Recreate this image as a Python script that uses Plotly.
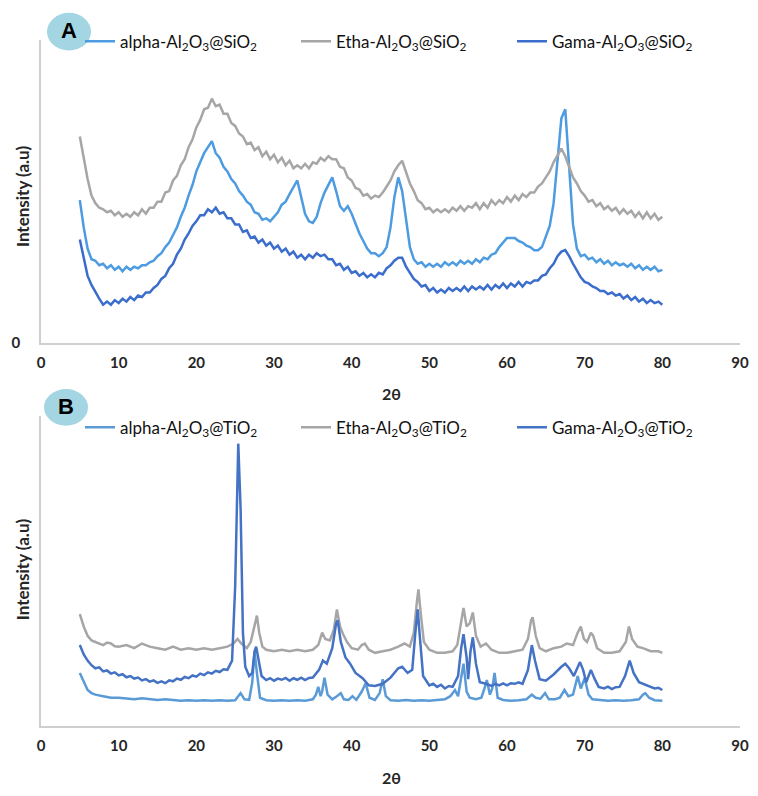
import plotly.graph_objects as go

# ---------------- Panel A data (2theta step 0.5 from 5 to 80) ----------------
xA = [5 + 0.5 * i for i in range(151)]

etha_sio2 = [68, 61, 54, 48.5, 46, 44.5, 44, 43, 43.5, 42,
             43, 41.5, 42.5, 41.5, 43, 42, 44, 42.5, 44.5, 44.5,
             46.5, 46.5, 49.5, 50, 53.5, 55, 58.5, 60.5, 64.5, 67,
             71, 73.5, 77, 77.5, 80.5, 78, 78.5, 75.5, 75.5, 72.5,
             71.5, 69, 68, 65.5, 66, 63.5, 64.5, 61.5, 63, 60.5,
             62, 59.5, 61, 58.5, 60, 57.5, 58.5, 57.5, 59, 57.5,
             59.5, 59, 61, 60, 61.5, 60.5, 60.5, 58, 57.5, 54.5,
             53.5, 51, 50.5, 48.5, 49, 47.5, 48.5, 48, 49.5, 51.5,
             53.5, 56.5, 58.5, 60, 56.5, 52.5, 50, 47, 46, 44,
             44.5, 43, 44, 43, 44, 43, 44.5, 43.5, 45, 43.5,
             45, 44.5, 46, 44, 46, 44.5, 47, 45.5, 47, 46,
             48, 46.5, 48.5, 47, 49, 48, 49.5, 49.5, 51.5, 52.5,
             54.5, 56.5, 59.5, 62, 64, 61.5, 58, 54.5, 52.5, 50,
             48.5, 46.5, 47, 45, 46, 44, 45, 43.5, 44.5, 42.5,
             44, 42.5, 43.5, 41.5, 43, 41, 43, 41, 42.5, 40.5,
             41.5]

alpha_sio2 = [47, 38, 31, 27.5, 27, 25.5, 26, 24.5, 25.5, 24,
              25, 23.5, 25, 24, 25, 24.5, 25.5, 25.5, 26.5, 27,
              28.5, 29.5, 31.5, 33, 35.5, 38, 41.5, 44.5, 48.5, 52,
              56.5, 59.5, 62.5, 64.5, 66.5, 62.5, 61, 58, 56.5, 54,
              52.5, 50, 48.5, 46.5, 45.5, 43, 42.5, 40.5, 41, 40,
              41.5, 43, 45.5, 46.5, 49, 51.5, 53.5, 48, 42.5, 40,
              39.5, 41.5, 46, 49.5, 52, 54.5, 50, 45, 43.5, 45,
              42.5, 39, 36, 33.5, 31, 29.5, 29.5, 28.5, 29.5, 31.5,
              38, 48, 54.5, 50, 40, 31.5, 27.5, 26, 26.5, 25,
              26, 25, 26, 25, 26.5, 25.5, 26.5, 25.5, 27, 26,
              27, 26, 27.5, 26.5, 28, 27.5, 29, 29.5, 31.5, 33,
              34.5, 34.5, 34.5, 33.5, 33, 32, 31.5, 30.5, 30.5, 31.5,
              35, 38.5, 46, 60, 74, 77, 58, 39, 31, 28.5,
              29, 27.5, 28, 26.5, 27.5, 26, 27, 25.5, 26.5, 25.5,
              26, 25, 26, 24.5, 25.5, 24, 25, 24, 25, 23.5,
              24]

gama_sio2 = [34, 27.5, 22, 19, 16.5, 14.5, 12.5, 13.5, 12.5, 14,
             13, 14.5, 13.5, 15, 14, 15.5, 15, 16.5, 16.5, 18,
             19, 21, 22, 24.5, 26, 29, 31, 34, 36, 38.5,
             40, 42, 42, 44, 43, 44.5, 42.5, 43, 41, 41,
             39, 39, 36.5, 37, 34.5, 35, 33, 34, 32, 33,
             31, 32, 30, 31, 29, 30, 28, 29, 27.5, 29,
             28, 29.5, 28.5, 29, 27.5, 27.5, 25.5, 26, 24, 25,
             23, 23.5, 22, 23, 21.5, 22.5, 21.5, 23, 22.5, 24.5,
             25.5, 27, 28, 28, 25, 23, 21, 20, 18.5, 19,
             17, 18, 16.5, 17.5, 16.5, 18, 17, 18, 17, 18.5,
             17, 18.5, 17.5, 18.5, 17.5, 19, 17.5, 19, 18, 19.5,
             18, 19.5, 18.5, 20, 18.5, 20, 19.5, 20.5, 20.5, 22,
             22.5, 24.5, 26, 28.5, 30, 30.5, 28.5, 26, 23.5, 21.5,
             20, 19.5, 18.5, 18, 17, 17, 16, 16.5, 15.5, 16,
             14.5, 15.5, 14, 15, 13.5, 14.5, 13, 14, 13, 13.5,
             12.5]

# ---------------- Panel B data ----------------
etha_tio2_x = [5, 5.5, 6, 6.5, 7, 7.5, 8, 8.5, 9, 9.5, 10, 11, 12, 13, 14, 15, 16, 17, 18, 19, 20, 21, 22, 23, 24,
               24.8, 25.3, 25.8, 26.5, 27.0, 27.5, 27.8, 28.1, 28.5, 29, 30, 31, 32, 33, 34, 35,
               35.7, 36.2, 36.6, 37.2, 37.7, 38.1, 38.5, 38.9, 39.4, 40, 40.8, 41.3, 41.7, 42.2,
               43, 44, 45, 46, 46.8, 47.5, 48, 48.4, 48.6, 48.9, 49.3, 50, 51, 52, 53, 53.6, 54.1,
               54.4, 54.8, 55.2, 55.6, 56.0, 56.6, 57.3, 58, 59, 60, 61, 62, 62.7, 63.1, 63.3,
               63.7, 64.2, 65, 66, 67, 67.7, 68.5, 69.1, 69.5, 69.9, 70.3, 70.8, 71.1, 71.6, 72.5,
               73.5, 74.5, 75.3, 75.7, 76.1, 76.8, 77.5, 78.5, 79.5, 80]
etha_tio2_y = [36, 32, 29, 27.5, 27, 26.5, 26, 26.8, 26.5, 25.6, 25.5, 26, 25, 26.5, 25.5, 25, 24.5, 25.5, 24.5, 25, 24.5, 25, 24.5, 25, 25.5,
               26.5, 28, 26.5, 25, 27, 33, 35.5, 30, 25.5, 24.5, 24, 24.5, 24, 24.5, 24, 24.5,
               26, 30, 28, 27.5, 31, 37.5, 32, 29.5, 27, 25, 24.5, 26, 26.5, 24.5,
               23.5, 24, 24.5, 25.5, 26.5, 25.5, 30, 40, 44, 36, 27, 24.5, 23.5, 23.5, 24, 26, 34,
               38, 32, 33, 36.5, 29, 25.5, 26.5, 24.5, 23.5, 23.5, 24, 24.5, 28, 34, 35,
               29, 25, 24, 25, 25.5, 26.5, 26, 30, 32, 28, 27, 30, 29, 25, 23.5,
               23.5, 24, 27, 32, 28, 25.5, 25, 24, 24, 23.5]

gama_tio2_x = [5, 5.5, 6, 6.5, 7, 7.5, 8, 8.5, 9, 9.5, 10, 10.5, 11, 11.5, 12, 12.5, 13, 13.5, 14, 14.5,
               15, 15.5, 16, 16.5, 17, 17.5, 18, 18.5, 19, 19.5, 20, 20.5, 21, 21.5, 22, 22.5, 23, 23.5, 24,
               24.6, 25.0, 25.4, 25.7, 26.0, 26.3, 26.8, 27.2, 27.5, 27.7, 28.0, 28.4, 29, 29.5, 30, 30.5,
               31, 31.5, 32, 32.5, 33, 33.5, 34, 34.5, 35, 35.8, 36.3, 36.8, 37.5, 38.0, 38.2, 38.6, 39.2,
               39.8, 40.5, 41.4, 42.2, 43, 44, 45, 46, 46.5, 47.2, 47.8, 48.2, 48.5, 48.8, 49.2, 50, 50.5,
               51, 51.5, 52, 52.5, 53, 53.7, 54.1, 54.4, 54.8, 55.0, 55.3, 55.6, 56.0, 56.5, 57.3, 58,
               58.5, 59, 59.5, 60, 60.5, 61, 61.5, 62, 62.7, 63.2, 63.6, 64.2, 65, 66, 67, 67.5, 68,
               68.6, 69.4, 69.8, 70.2, 70.8, 71.3, 71.8, 72.5, 73, 73.5, 74, 74.5, 75.2, 75.8, 76.3,
               77, 77.5, 78, 78.5, 79, 79.5, 80]
gama_tio2_y = [26, 23, 21, 19.5, 18.5, 18.8, 17.5, 17.8, 16.8, 17.2, 16.2, 16.6, 15.6, 16, 15.2, 15.5, 14.6, 15, 14.2, 14.6,
               13.8, 14.3, 13.7, 14.6, 14.3, 15.2, 14.8, 15.7, 15.3, 16.2, 15.8, 16.8, 16.3, 17.2, 16.8, 17.7, 17.3, 18.2, 18,
               21, 45, 91, 70, 30, 19, 16, 17, 24, 25.5, 21, 16, 14.7, 15.3, 14.5, 15.2,
               14.8, 15.4, 14.5, 15.3, 14.8, 15.5, 14.7, 15.4, 15.5, 18, 21, 20, 25, 33, 34, 27, 22,
               20, 17, 15.3, 13, 12.8, 13.5, 15.5, 18.5, 19, 17, 18, 30, 37.5, 28, 16, 13, 13.5,
               12.5, 13.2, 12, 12.8, 12.5, 16, 25, 29.5, 22, 15, 24, 28.5, 20, 14, 13.5, 12.8,
               13.5, 13, 13.6, 13, 13.7, 13.5, 14, 13.5, 18, 26, 21, 15, 14.5, 16.5, 19, 20, 18.5,
               16, 20.5, 18, 14, 18, 15, 12.5, 12, 12.6, 11.8, 12.4, 12.5, 16, 21, 17,
               14, 13.5, 13, 12.6, 12, 12.2, 11.5]

alpha_tio2_x = [5, 5.5, 6, 6.5, 7, 8, 9, 10, 11, 12, 13, 14, 15, 16, 17, 18, 19, 20, 21, 22, 23, 24, 25,
                25.7, 26.2, 26.8, 27.2, 27.5, 27.8, 28.2, 29, 30, 31, 32, 33, 34, 35, 35.4, 35.7, 36.0,
                36.2, 36.5, 36.9, 37.5, 38.1, 38.6, 39.0, 39.6, 40.1, 40.6, 41.3, 41.8, 42.3, 43.0,
                43.6, 44.0, 44.4, 45, 46, 47, 48, 49, 50, 51, 52, 52.7, 53.3, 53.7, 54.1, 54.4, 54.8,
                55.2, 56, 56.7, 57.1, 57.4, 57.8, 58.1, 58.4, 58.8, 59.5, 60.5, 61.5, 62.5, 63.2, 63.7,
                64.3, 64.9, 65.4, 66.2, 66.8, 67.4, 67.9, 68.5, 69.1, 69.5, 70.0, 70.5, 71, 72, 73,
                74, 75, 76, 77, 77.5, 77.8, 78.3, 79, 80]
alpha_tio2_y = [17, 14, 11.5, 10.5, 10, 9.5, 9, 9, 8.7, 8.5, 8.8, 8.5, 8.3, 8.5, 8.2, 8, 8.2, 8, 8.2, 8, 8.2, 8, 8.2,
                10.5, 8.5, 8.3, 14, 24, 17, 9, 8.2, 8, 8.2, 8, 8.2, 8, 8.5, 10, 12.5, 9.5,
                11, 15.5, 10, 8.5, 9.5, 10.5, 8.5, 8.3, 9.5, 8.3, 11, 13.7, 9, 8.3,
                10.5, 15, 9.5, 8.2, 8, 8.3, 8, 8.2, 8, 8.2, 8.5, 9.5, 11.5, 9.5, 16, 20, 11,
                9, 8.5, 9, 12, 14.7, 10, 12, 17, 9, 8.3, 8, 8.2, 8.5, 10, 9,
                8.7, 10.5, 8.5, 8.5, 9, 11.5, 9.5, 10, 16, 12, 15.3, 10, 8.5, 8.2, 8,
                8.2, 8, 8.2, 8.5, 10, 10.5, 9, 8.2, 8]

x_ticks = [0, 10, 20, 30, 40, 50, 60, 70, 80, 90]
x_title = "2θ"
y_title = "Intensity (a.u)"
names_A = ["alpha-Al<sub>2</sub>O<sub>3</sub>@SiO<sub>2</sub>",
           "Etha-Al<sub>2</sub>O<sub>3</sub>@SiO<sub>2</sub>",
           "Gama-Al<sub>2</sub>O<sub>3</sub>@SiO<sub>2</sub>"]
names_B = ["alpha-Al<sub>2</sub>O<sub>3</sub>@TiO<sub>2</sub>",
           "Etha-Al<sub>2</sub>O<sub>3</sub>@TiO<sub>2</sub>",
           "Gama-Al<sub>2</sub>O<sub>3</sub>@TiO<sub>2</sub>"]

C_ALPHA_A = "#4d9be0"
C_ETHA = "#a6a6a6"
C_GAMA_A = "#3b6dcc"
C_ALPHA_B = "#5a9ad6"
C_GAMA_B = "#4472c4"

W, H = 758, 796
L, R = 41, 18
PW = W - L - R


def px2py(py):
    return 1 - py / H


def px2px(px):
    return (px - L) / PW


fig = go.Figure()
fig.add_trace(go.Scatter(x=xA, y=alpha_sio2, mode="lines", name=names_A[0],
                         line=dict(color=C_ALPHA_A, width=2.5), xaxis="x", yaxis="y", legend="legend"))
fig.add_trace(go.Scatter(x=xA, y=etha_sio2, mode="lines", name=names_A[1],
                         line=dict(color=C_ETHA, width=2.5), xaxis="x", yaxis="y", legend="legend"))
fig.add_trace(go.Scatter(x=xA, y=gama_sio2, mode="lines", name=names_A[2],
                         line=dict(color=C_GAMA_A, width=2.5), xaxis="x", yaxis="y", legend="legend"))

fig.add_trace(go.Scatter(x=alpha_tio2_x, y=alpha_tio2_y, mode="lines", name=names_B[0],
                         line=dict(color=C_ALPHA_B, width=2.5), xaxis="x2", yaxis="y2", legend="legend2"))
fig.add_trace(go.Scatter(x=etha_tio2_x, y=etha_tio2_y, mode="lines", name=names_B[1],
                         line=dict(color=C_ETHA, width=2.5), xaxis="x2", yaxis="y2", legend="legend2"))
fig.add_trace(go.Scatter(x=gama_tio2_x, y=gama_tio2_y, mode="lines", name=names_B[2],
                         line=dict(color=C_GAMA_B, width=2.5), xaxis="x2", yaxis="y2", legend="legend2"))

tickfont = dict(family="Lato", size=15, color="#262626", weight="bold")
axline = dict(showline=True, linecolor="#cfcfcf", linewidth=1.5, showgrid=False, zeroline=False)
legfont = dict(family="Lato", size=17, color="#111111")

fig.update_layout(
    width=W, height=H,
    margin=dict(l=L, r=R, t=0, b=0),
    paper_bgcolor="white", plot_bgcolor="white",
    font=dict(family="Lato", color="#262626"),
    xaxis=dict(domain=[0, 1], range=[0, 90], tickvals=x_ticks, anchor="y",
               tickfont=tickfont, ticks="", ticklabelstandoff=6, **axline),
    yaxis=dict(domain=[px2py(346), px2py(40)], range=[0, 100], anchor="x",
               tickvals=[0], ticktext=["0"], tickfont=tickfont, ticks="",
               ticklabelstandoff=16, **axline),
    xaxis2=dict(domain=[0, 1], range=[0, 90], tickvals=x_ticks, anchor="y2",
                tickfont=tickfont, ticks="", ticklabelstandoff=6, **axline),
    yaxis2=dict(domain=[px2py(733), px2py(420)], range=[0, 100], anchor="x2",
                showticklabels=False, ticks="", **axline),
    legend=dict(orientation="h", x=px2px(80), y=px2py(42), xanchor="left", yanchor="middle",
                entrywidth=171, entrywidthmode="pixels", bgcolor="rgba(0,0,0,0)",
                font=legfont, tracegroupgap=0),
    legend2=dict(orientation="h", x=px2px(80), y=px2py(432), xanchor="left", yanchor="middle",
                 entrywidth=171, entrywidthmode="pixels", bgcolor="rgba(0,0,0,0)",
                 font=legfont, tracegroupgap=0),
    showlegend=True,
)

# panel badges
fig.add_shape(type="circle", xref="paper", yref="paper",
              x0=px2px(47), x1=px2px(91), y0=px2py(51), y1=px2py(13),
              fillcolor="#a3d5e2", line=dict(width=0), layer="above")
fig.add_shape(type="circle", xref="paper", yref="paper",
              x0=px2px(44), x1=px2px(88), y0=px2py(430), y1=px2py(393),
              fillcolor="#a3d5e2", line=dict(width=0), layer="above")
fig.add_annotation(text="A", xref="paper", yref="paper", x=px2px(69), y=px2py(31),
                   xanchor="center", yanchor="middle", showarrow=False,
                   font=dict(family="Liberation Sans", size=22, color="black", weight="bold"))
fig.add_annotation(text="B", xref="paper", yref="paper", x=px2px(66), y=px2py(411),
                   xanchor="center", yanchor="middle", showarrow=False,
                   font=dict(family="Liberation Sans", size=22, color="black", weight="bold"))

# axis titles
for ypx in (198, 575):
    fig.add_annotation(text=y_title, xref="paper", yref="paper", x=px2px(22), y=px2py(ypx),
                       xanchor="center", yanchor="middle", textangle=-90, showarrow=False,
                       font=dict(family="Lato", size=17, color="#262626", weight="bold"))
for ypx in (397, 785):
    fig.add_annotation(text=x_title, xref="paper", yref="paper", x=px2px(391), y=px2py(ypx),
                       xanchor="center", yanchor="middle", showarrow=False,
                       font=dict(family="Lato", size=16, color="#262626", weight="bold"))

fig.write_html("out.html")
